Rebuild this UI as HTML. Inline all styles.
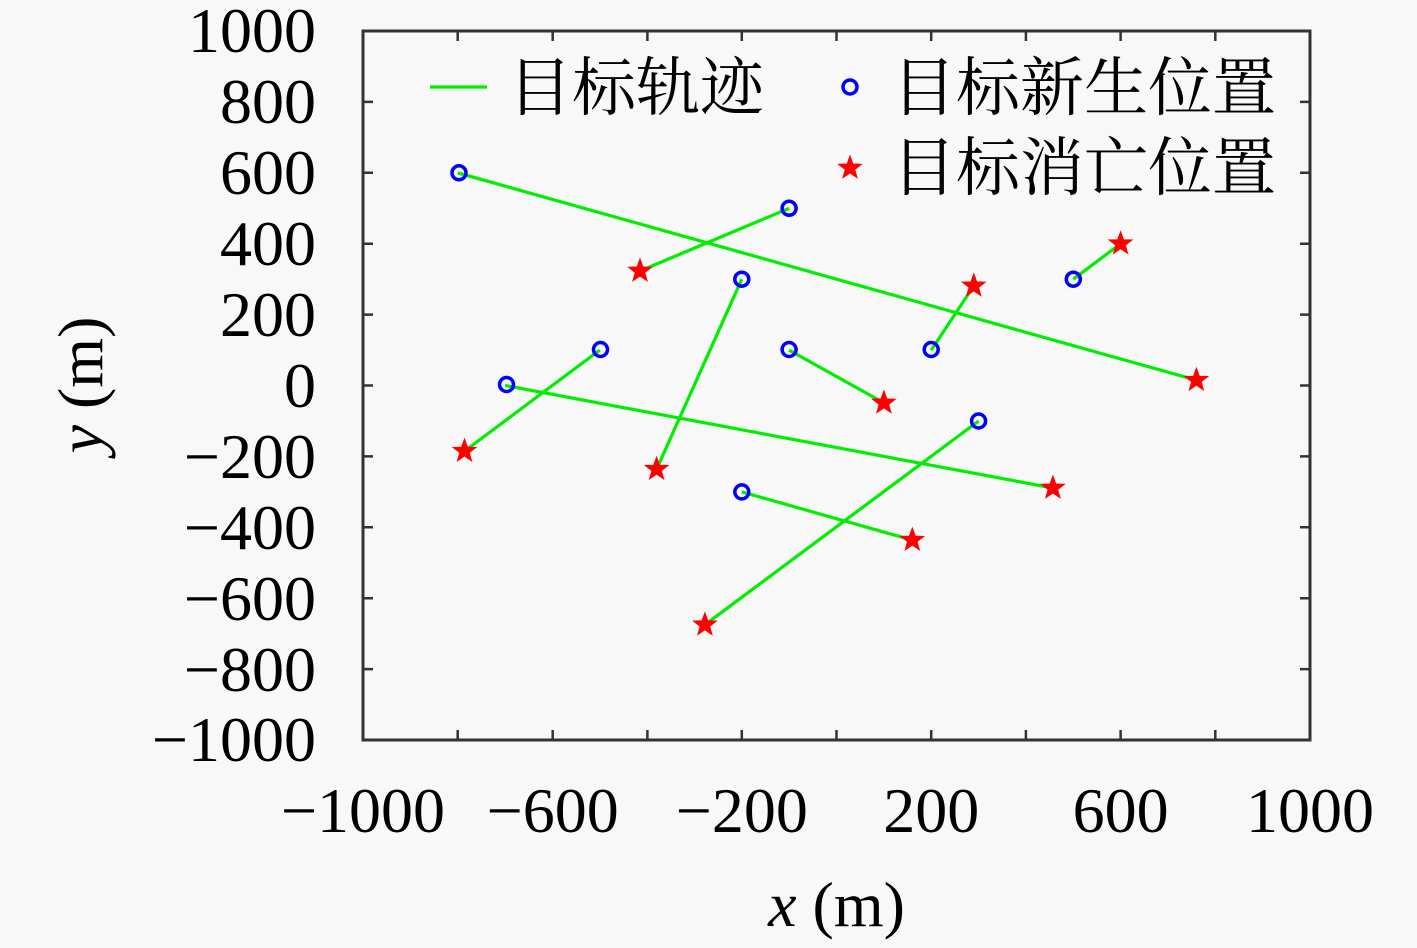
<!DOCTYPE html>
<html><head><meta charset="utf-8"><style>html,body{margin:0;padding:0;background:#f8f8f8;overflow:hidden}</style></head><body>
<svg width="1417" height="948" viewBox="0 0 1417 948" xmlns="http://www.w3.org/2000/svg" font-family="'Liberation Serif','Noto Serif CJK SC',serif" style="display:block">
<defs>
<polygon id="st" points="0,-12 2.9,-4 11.4,-3.7 4.7,1.5 7.05,9.7 0,4.9 -7.05,9.7 -4.7,1.5 -11.4,-3.7 -2.9,-4" fill="#ff0000" stroke="#ff0000" stroke-width="1"/>
<circle id="ci" r="7" fill="none" stroke="#0000ff" stroke-width="3.5"/>
</defs>
<rect x="363" y="31" width="947" height="709" fill="#f8f8f8" stroke="#333" stroke-width="3"/>
<g stroke="#333" stroke-width="2.5">
<path d="M457.7,740v-10M552.7,740v-10M647.4,740v-10M741.8,740v-10M836.5,740v-10M931.2,740v-10M1025.9,740v-10M1120.6,740v-10M1215.3,740v-10
M457.7,31v10M552.7,31v10M647.4,31v10M741.8,31v10M836.5,31v10M931.2,31v10M1025.9,31v10M1120.6,31v10M1215.3,31v10
M363,669.1h10M363,598.2h10M363,527.3h10M363,456.4h10M363,385.5h10M363,314.6h10M363,243.7h10M363,172.8h10M363,101.9h10
M1310,669.1h-10M1310,598.2h-10M1310,527.3h-10M1310,456.4h-10M1310,385.5h-10M1310,314.6h-10M1310,243.7h-10M1310,172.8h-10M1310,101.9h-10"/>
</g>
<g stroke="#00ee00" stroke-width="3.2">
<line x1="457.7" y1="172.8" x2="1196.4" y2="380.2"/>
<line x1="789.1" y1="208.3" x2="640" y2="271"/>
<line x1="741.8" y1="279.2" x2="656.6" y2="469.2"/>
<line x1="789.1" y1="350.1" x2="883.9" y2="402.9"/>
<line x1="931.2" y1="350.1" x2="973.8" y2="285.9"/>
<line x1="1073.3" y1="279.2" x2="1120.6" y2="243.7"/>
<line x1="599.7" y1="350.1" x2="464.5" y2="451.1"/>
<line x1="505.1" y1="385.5" x2="1052.9" y2="488"/>
<line x1="978.6" y1="421" x2="704.9" y2="624.8"/>
<line x1="741.8" y1="491.9" x2="912.3" y2="540.1"/>
<line x1="430" y1="87" x2="487" y2="87"/>
</g>
<use href="#ci" x="459" y="172.8"/><use href="#ci" x="789.1" y="208.3"/><use href="#ci" x="741.8" y="279.2"/><use href="#ci" x="789.1" y="349.5"/><use href="#ci" x="931.2" y="349.5"/><use href="#ci" x="1073.3" y="279.2"/><use href="#ci" x="600.5" y="349.5"/><use href="#ci" x="506.5" y="384.5"/><use href="#ci" x="978.6" y="421"/><use href="#ci" x="741.8" y="491.9"/><use href="#ci" x="850" y="87"/>
<use href="#st" x="1196.4" y="380.2"/><use href="#st" x="640" y="271"/><use href="#st" x="656.6" y="469.2"/><use href="#st" x="883.9" y="402.9"/><use href="#st" x="973.8" y="285.9"/><use href="#st" x="1120.6" y="243.7"/><use href="#st" x="464.5" y="451.1"/><use href="#st" x="1052.9" y="488"/><use href="#st" x="704.9" y="624.8"/><use href="#st" x="912.3" y="540.1"/><use href="#st" x="850" y="168"/>
<g font-size="64" fill="#000">
<text x="508" y="110">目标轨迹</text>
<text x="892" y="110">目标新生位置</text>
<text x="892" y="190">目标消亡位置</text>
</g>
<g font-size="64" fill="#000" text-anchor="end">
<text x="316" y="52">1000</text><text x="316" y="123">800</text><text x="316" y="194">600</text><text x="316" y="265">400</text><text x="316" y="336">200</text><text x="316" y="407">0</text><text x="316" y="478">−200</text><text x="316" y="549">−400</text><text x="316" y="620">−600</text><text x="316" y="691">−800</text><text x="316" y="761">−1000</text>
</g>
<g font-size="64" fill="#000" text-anchor="middle">
<text x="363" y="832">−1000</text><text x="552.7" y="832">−600</text><text x="741.8" y="832">−200</text><text x="931.2" y="832">200</text><text x="1120.6" y="832">600</text><text x="1310" y="832">1000</text>
<text x="836.5" y="926"><tspan font-style="italic">x</tspan> (m)</text>
<text transform="translate(102,385) rotate(-90)"><tspan font-style="italic">y</tspan> (m)</text>
</g>
</svg>
</body></html>
